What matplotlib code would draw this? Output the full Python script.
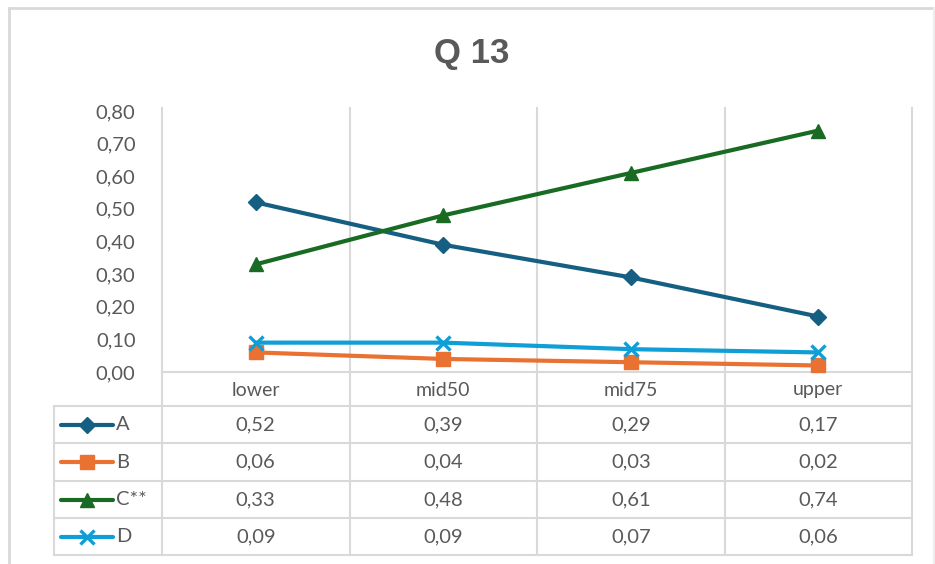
import matplotlib
matplotlib.use("Agg")
import matplotlib.pyplot as plt
from matplotlib.transforms import blended_transform_factory

categories = ["lower", "mid50", "mid75", "upper"]
series_names = ["A", "B", "C**", "D"]
A = [0.52, 0.39, 0.29, 0.17]
B = [0.06, 0.04, 0.03, 0.02]
C = [0.33, 0.48, 0.61, 0.74]
D = [0.09, 0.09, 0.07, 0.06]
yticks = [0.0, 0.1, 0.2, 0.3, 0.4, 0.5, 0.6, 0.7, 0.8]
title = "Q 13"

series = [A, B, C, D]
colors = ["#156082", "#E97132", "#196B24", "#0F9ED5"]
markers = ["D", "s", "^", "x"]
msizes = [8.5, 10, 10.5, 10]

plt.rcParams['font.family'] = ['Lato', 'DejaVu Sans']
TXT = "#595959"
GRID = "#D9D9D9"
LW = 3.0

W, H = 935, 564
fig = plt.figure(figsize=(W / 100, H / 100), dpi=100)
fig.patch.set_facecolor("white")

# overlay in pixel coordinates for table structure / border
ov = fig.add_axes([0, 0, 1, 1], zorder=0)
ov.set_xlim(0, W)
ov.set_ylim(H, 0)
ov.axis("off")

L, R, T, Bt = 162, 912, 111, 372
ax = fig.add_axes([L / W, 1 - Bt / H, (R - L) / W, (Bt - T) / H], zorder=2)
ax.patch.set_alpha(0)
ax.set_xlim(-0.5, len(categories) - 0.5)
ax.set_ylim(0, 0.8)
for s in ax.spines.values():
    s.set_visible(False)
ax.set_xticks([])
ax.set_yticks(yticks)
ax.set_yticklabels([f"{v:.2f}".replace(".", ",") for v in yticks], color=TXT, fontsize=14.5)
ax.tick_params(axis="y", length=0, pad=19)

x = list(range(len(categories)))
for vals, col, mk, ms in zip(series, colors, markers, msizes):
    ax.plot(x, vals, color=col, lw=LW, marker=mk, ms=ms, mew=2.4 if mk == "x" else 1,
            mec=col, mfc=col, solid_capstyle="round", clip_on=False, zorder=3)

# table geometry
bt = blended_transform_factory(ax.transData, ov.transData)
bounds = [i - 0.5 for i in range(len(categories) + 1)]
row_top = Bt
tab_left = 54
rows_y = [row_top, 406, 443, 481, 518, 555]

# vertical gridlines (plot + table)
for b in bounds:
    ov.plot([b, b], [T - 3, rows_y[-1]], color=GRID, lw=1.5, transform=bt, zorder=1)
# left boundary of legend column
ov.plot([tab_left, tab_left], [rows_y[1], rows_y[-1]], color=GRID, lw=1.5, zorder=1)
# horizontal lines
ov.plot([L, R], [rows_y[0], rows_y[0]], color=GRID, lw=1.5, zorder=1)
for yy in rows_y[1:]:
    ov.plot([tab_left, R], [yy, yy], color=GRID, lw=1.5, zorder=1)

# category labels
for i, c in enumerate(categories):
    ov.text(i, (rows_y[0] + rows_y[1]) / 2 + 1, c, transform=bt, ha="center", va="center",
            color=TXT, fontsize=14)

# values + legend keys
for r, (name, vals, col, mk, ms) in enumerate(zip(series_names, series, colors, markers, msizes)):
    yc = (rows_y[r + 1] + rows_y[r + 2]) / 2
    for i, v in enumerate(vals):
        ov.text(i, yc, f"{v:.2f}".replace(".", ","), transform=bt, ha="center", va="center",
                color=TXT, fontsize=14.5)
    ov.plot([61, 113], [yc, yc], color=col, lw=LW, solid_capstyle="round", zorder=2)
    ov.plot([87], [yc], marker=mk, ms=ms, color=col, mec=col, mfc=col,
            mew=2.4 if mk == "x" else 1, zorder=3)
    ov.text(116, yc, name, ha="left", va="center", color=TXT, fontsize=14.5)

# title
fig.text(472 / W, 1 - 54 / H, title, ha="center", va="center", color=TXT, fontsize=25,
         fontweight="bold", family=["Liberation Sans", "DejaVu Sans"])

# outer border
ov.plot([9, 9], [8, H], color=GRID, lw=2, zorder=1)
ov.plot([9, 934], [8, 8], color=GRID, lw=2, zorder=1)
ov.plot([934, 934], [8, H], color="#EEEEEE", lw=1.5, zorder=1)

fig.savefig("out.png", dpi=100, facecolor="white")
